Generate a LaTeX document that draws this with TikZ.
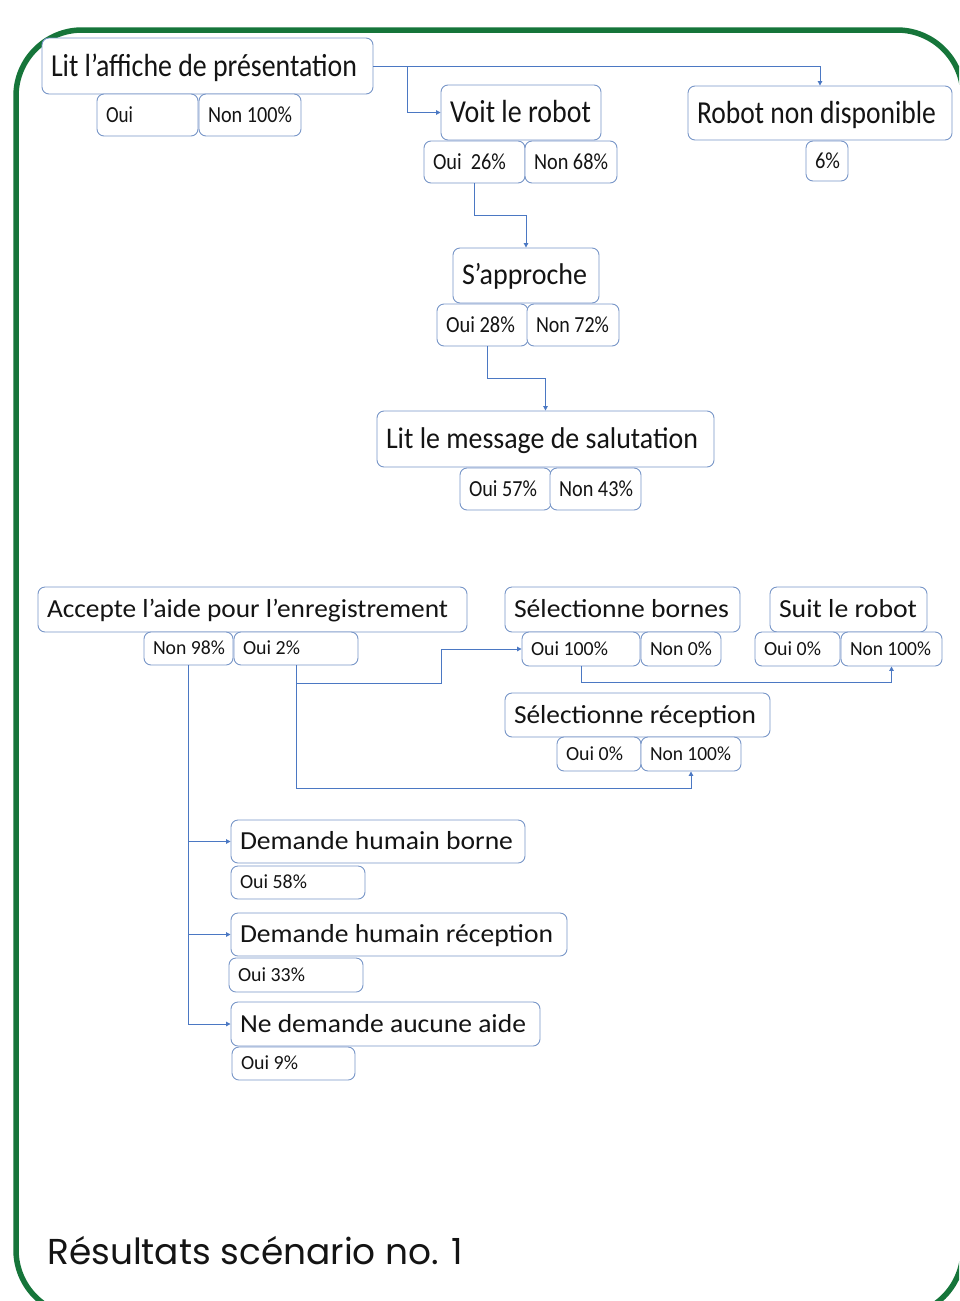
\documentclass[tikz,border=0pt]{standalone}
\usepackage{fontspec}
\usepackage{graphicx}
\usetikzlibrary{arrows.meta,calc}
\newfontfamily\carl{Carlito}
\newfontfamily\ttlfont{Poppins}
\definecolor{frame}{RGB}{22,117,58}
\definecolor{bord}{RGB}{120,150,200}
\definecolor{conncol}{RGB}{75,120,195}
\definecolor{txt}{RGB}{20,20,20}
\tikzset{
  bx/.style={draw=bord, line width=0.9pt, rounded corners=7pt, fill=white, inner sep=0pt, text=txt},
  conn/.style={draw=conncol, line width=1pt, -{Triangle[width=4.5pt,length=4.5pt]}},
  seg/.style={draw=conncol, line width=1pt}
}
\newcommand\bx[8]{%
  \pgfmathsetmacro\bxW{#4-#2}\pgfmathsetmacro\bxH{#5-#3}%
  \pgfmathsetmacro\bxX{(#2+#4)/2}\pgfmathsetmacro\bxY{(#3+#5)/2}%
  \pgfmathsetmacro\bxT{0.882*#6}\pgfmathsetmacro\bxD{0.25*#6}%
  \pgfmathsetmacro\bxI{\bxW-18}%
  \node[bx, minimum width=\bxW pt, minimum height=\bxH pt, text height=\bxT pt, text depth=\bxD pt,
        font=\carl\fontsize{#6}{#6}\selectfont] (#1) at (\bxX,\bxY)
        {\makebox[\bxI pt][l]{\resizebox{#7pt}{\height}{#8}}};}
\begin{document}
\begin{tikzpicture}[x=1pt,y=-1pt]
\useasboundingbox (0,0) rectangle (959,1301);
\begin{scope}
\clip (0,0) rectangle (959,1301);
\draw[frame, line width=5.5pt, rounded corners=66pt] (16,30) rectangle (963,1316);
\end{scope}

% ---- top part
\bx{A}{42}{38}{373}{94}{32}{306}{Lit l’affiche de présentation}
\bx{aoui}{97}{94}{198}{136}{23}{27}{Oui}
\bx{anon}{199}{94}{301}{136}{23}{84}{Non 100\%}

\bx{B}{441}{85}{601}{140}{32}{141}{Voit le robot}
\bx{o26}{424}{141}{525}{183}{23}{73}{Oui\ \ 26\%}
\bx{n68}{525}{141}{617}{183}{23}{74}{Non 68\%}

\bx{C}{688}{86}{952}{140}{32}{239}{Robot non disponible}
\bx{p6}{806}{141}{848}{181}{23}{25}{6\%}

\bx{D}{453}{248}{599}{303}{30}{125}{S’approche}
\bx{o28}{437}{304}{528}{346}{23}{69}{Oui 28\%}
\bx{n72}{527}{304}{619}{346}{23}{73}{Non 72\%}

\bx{E}{377}{411}{714}{467}{30}{312}{Lit le message de salutation}
\bx{o57}{460}{468}{551}{510}{23}{68}{Oui 57\%}
\bx{n43}{550}{468}{641}{510}{23}{74}{Non 43\%}

% ---- lower part
\bx{F}{38}{587}{467}{632}{26}{401}{Accepte l’aide pour l’enregistrement}
\bx{n98}{144}{632}{233}{665}{20}{72}{Non 98\%}
\bx{o2}{234}{632}{358}{665}{20}{57}{Oui 2\%}

\bx{G}{505}{587}{740}{632}{26}{215}{Sélectionne bornes}
\bx{o100}{522}{632}{640}{666}{20}{77}{Oui 100\%}
\bx{n0}{641}{632}{721}{666}{20}{62}{Non 0\%}

\bx{H}{770}{587}{927}{632}{26}{138}{Suit le robot}
\bx{o0h}{755}{632}{840}{666}{20}{57}{Oui 0\%}
\bx{n100h}{841}{632}{942}{666}{20}{81}{Non 100\%}

\bx{I}{505}{693}{770}{737}{26}{242}{Sélectionne réception}
\bx{o0i}{557}{737}{641}{771}{20}{57}{Oui 0\%}
\bx{n100i}{641}{737}{741}{771}{20}{81}{Non 100\%}

\bx{J}{231}{820}{525}{863}{26}{273}{Demande humain borne}
\bx{o58}{231}{866}{365}{899}{20}{67}{Oui 58\%}

\bx{K}{231}{913}{567}{956}{26}{313}{Demande humain réception}
\bx{o33}{229}{958}{363}{992}{20}{67}{Oui 33\%}

\bx{L}{231}{1002}{540}{1046}{26}{286}{Ne demande aucune aide}
\bx{o9}{232}{1047}{355}{1080}{20}{57}{Oui 9\%}

% ---- connectors
\coordinate (j1) at (407,66.5);
\draw[conn] (A.east) -| (C.north);
\draw[conn] (j1) |- (B.west);
\draw[conn] (o26.south) -- ++(0,32) -| (D.north);
\draw[conn] ($(o28.south)+(5,0)$) -- ++(0,32) -| (E.north);

\coordinate (k1) at (441,683);
\draw[conn] (o2.south) |- (k1) |- (o100.west);
\draw[conn] (o2.south) |- ($(n100i.south)+(0,17)$) -- (n100i.south);
\draw[conn] (o100.south) -- ++(0,16) -| (n100h.south);
\draw[conn] (n98.south) |- (L.west);
\draw[conn] (n98.south |- J.west) -- (J.west);
\draw[conn] (n98.south |- K.west) -- (K.west);

% ---- title
\node[anchor=base west, text=txt, inner sep=0pt, font=\ttlfont\fontsize{36}{36}\selectfont] (title) at (47,1264)
  {\resizebox{416pt}{\height}{Résultats scénario no. 1}};
\end{tikzpicture}
\end{document}
